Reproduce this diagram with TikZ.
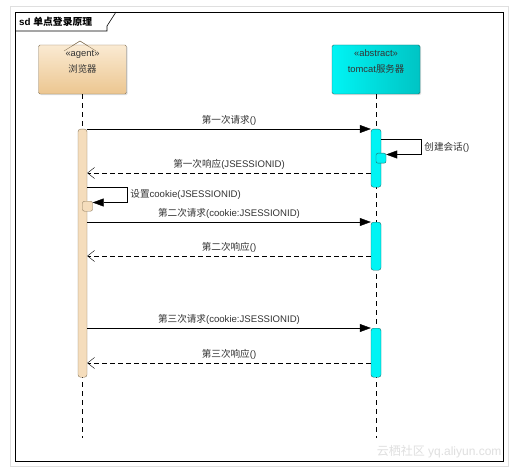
\documentclass[tikz,border=0pt]{standalone}
\usepackage{fontspec}
\setmainfont{Liberation Sans}
\newfontfamily\cjk{Noto Sans CJK SC}
\newcommand{\zh}[1]{{\cjk #1}}
\usepackage{tikz}
\usetikzlibrary{arrows.meta,calc,shadows}
\usepackage{xcolor}

\definecolor{agentfill}{HTML}{ECC690}
\definecolor{agentlight}{HTML}{FAEAD2}
\definecolor{agentbar}{HTML}{F5DDBC}
\definecolor{agentline}{HTML}{8C7A5E}
\definecolor{srvfill}{HTML}{00C4C4}
\definecolor{srvlight}{HTML}{00F4F4}
\definecolor{srvline}{HTML}{1E6E6E}
\definecolor{txt}{HTML}{333333}

\tikzset{
  partbox/.style={rectangle,rounded corners=1.5pt,inner sep=0pt,
    minimum width=88pt,minimum height=49pt,
    drop shadow={opacity=0.25,shadow xshift=1.2pt,shadow yshift=-1.2pt}},
  actbar/.style={rectangle,rounded corners=2.5pt,inner sep=0pt,minimum width=9pt},
  lifeline/.style={thin,dash pattern=on 5pt off 4pt},
  req/.style={-{Triangle[length=11pt,width=8pt]},thin},
  resp/.style={-{Straight Barb[length=7pt,width=11pt]},thin,dash pattern=on 5pt off 3pt},
  msglabel/.style={text=txt,inner sep=1pt,font=\fontsize{9.6}{11}\selectfont}
}

\begin{document}
\begin{tikzpicture}[x=1pt,y=-1pt,>=Latex]

		%----------------------------------------
		% Page and frame
		%----------------------------------------
		\useasboundingbox[fill=white] (0,0) rectangle (516,473);
		\draw[gray!25,line width=0.8pt] (10,6) rectangle (508,466);
		\draw[line width=0.7pt] (15,12) rectangle (503,461);
		\draw[line width=0.6pt] (15,31) -- (107,31) -- (107,26) -- (116,12);
		\node[anchor=west,inner sep=0pt,font=\fontsize{9.8}{11}\selectfont\bfseries]
		(title) at (19,22) {sd \zh{单点登录原理}};

		%----------------------------------------
		% Participants
		%----------------------------------------
		\node[partbox,draw=agentline,top color=agentlight,bottom color=agentfill]
		(browser) at (82.5,69.5) {};
		\node[partbox,draw=srvline,left color=srvlight,right color=srvfill]
		(server) at (376,69.5) {};

		% agent stereotype mark
		\draw[agentline] (64,51) -- (80,41) -- (96,51);
		\draw[agentline] (72,46) -- (80,41) -- (88,46);

		\node[text=txt,align=center,anchor=north,inner sep=0pt,
		font=\fontsize{9.4}{16}\selectfont] (browserText) at ($(browser.north)+(0,5)$)
		{«agent»\\\zh{浏览器}};
		\node[text=txt,align=center,anchor=north,inner sep=0pt,
		font=\fontsize{9.4}{16}\selectfont] (serverText) at ($(server.north)+(0,5)$)
		{«abstract»\\tomcat\zh{服务器}};

		%----------------------------------------
		% Lifelines
		%----------------------------------------
		\coordinate (browserEnd) at (browser.south |- 0,438);
		\coordinate (serverEnd) at (server.south |- 0,438);
		\draw[lifeline] (browser.south) -- (browserEnd);
		\draw[lifeline] (server.south) -- (serverEnd);

		%----------------------------------------
		% Activations
		%----------------------------------------
		\node[actbar,draw=agentline,fill=agentbar,minimum height=248pt,anchor=north]
		(actC) at (browser.south |- 0,129) {};
		\node[actbar,draw=agentline,fill=agentbar,minimum width=10pt,minimum height=10pt,
		rounded corners=2pt,anchor=north] (cookie) at ($(actC.north)+(5,72)$) {};

		\node[actbar,draw=srvline,fill=srvlight,minimum width=10pt,minimum height=58pt,anchor=north]
		(actS1) at (server.south |- 0,129) {};
		\node[actbar,draw=srvline,fill=srvlight,minimum width=10pt,minimum height=10pt,
		rounded corners=2pt,anchor=north] (actS1b) at ($(actS1.north)+(5,24)$) {};
		\node[actbar,draw=srvline,fill=srvlight,minimum width=10pt,minimum height=48pt,anchor=north]
		(actS2) at (server.south |- 0,222) {};
		\node[actbar,draw=srvline,fill=srvlight,minimum width=10pt,minimum height=49pt,anchor=north]
		(actS3) at (server.south |- 0,328) {};

		%----------------------------------------
		% First round
		%----------------------------------------
		\draw[req] (actC.north east) -- (actS1.north west)
		node[msglabel,midway,above=2pt] {\zh{第一次请求}()};

		\draw[req] (actS1.east |- 0,139) -- ++(40,0) coordinate (sturn)
		|- ([yshift=-1.5pt]actS1b.north east);
		\node[msglabel,anchor=west] (session) at ($(sturn)+(2,8)$) {\zh{创建会话}()};

		\draw[resp] (actS1.west |- 0,173) -- (actC.east |- 0,173)
		node[msglabel,midway,above=2pt] {\zh{第一次响应}(JSESSIONID)};

		\draw[req] (actC.east |- 0,187) -- ++(40,0) coordinate (cturn)
		|- ([yshift=-1.5pt]cookie.north east);
		\node[msglabel,anchor=west] (setcookie) at ($(cturn)+(2,8)$)
		{\zh{设置}cookie(JSESSIONID)};

		%----------------------------------------
		% Second round
		%----------------------------------------
		\draw[req] (actC.east |- actS2.north) -- (actS2.north west)
		node[msglabel,midway,above=2pt] {\zh{第二次请求}(cookie:JSESSIONID)};
		\draw[resp] (actS2.west |- 0,256) -- (actC.east |- 0,256)
		node[msglabel,midway,above=2pt] {\zh{第二次响应}()};

		%----------------------------------------
		% Third round
		%----------------------------------------
		\draw[req] (actC.east |- actS3.north) -- (actS3.north west)
		node[msglabel,midway,above=2pt] {\zh{第三次请求}(cookie:JSESSIONID)};
		\draw[resp] (actS3.west |- 0,363) -- (actC.east |- 0,363)
		node[msglabel,midway,above=2pt] {\zh{第三次响应}()};

		% watermark
		\node[anchor=east,text=gray!25,font=\fontsize{12}{12}\selectfont]
		(mark) at (505,452) {\zh{云栖社区} yq.aliyun.com};

\end{tikzpicture}
\end{document}
